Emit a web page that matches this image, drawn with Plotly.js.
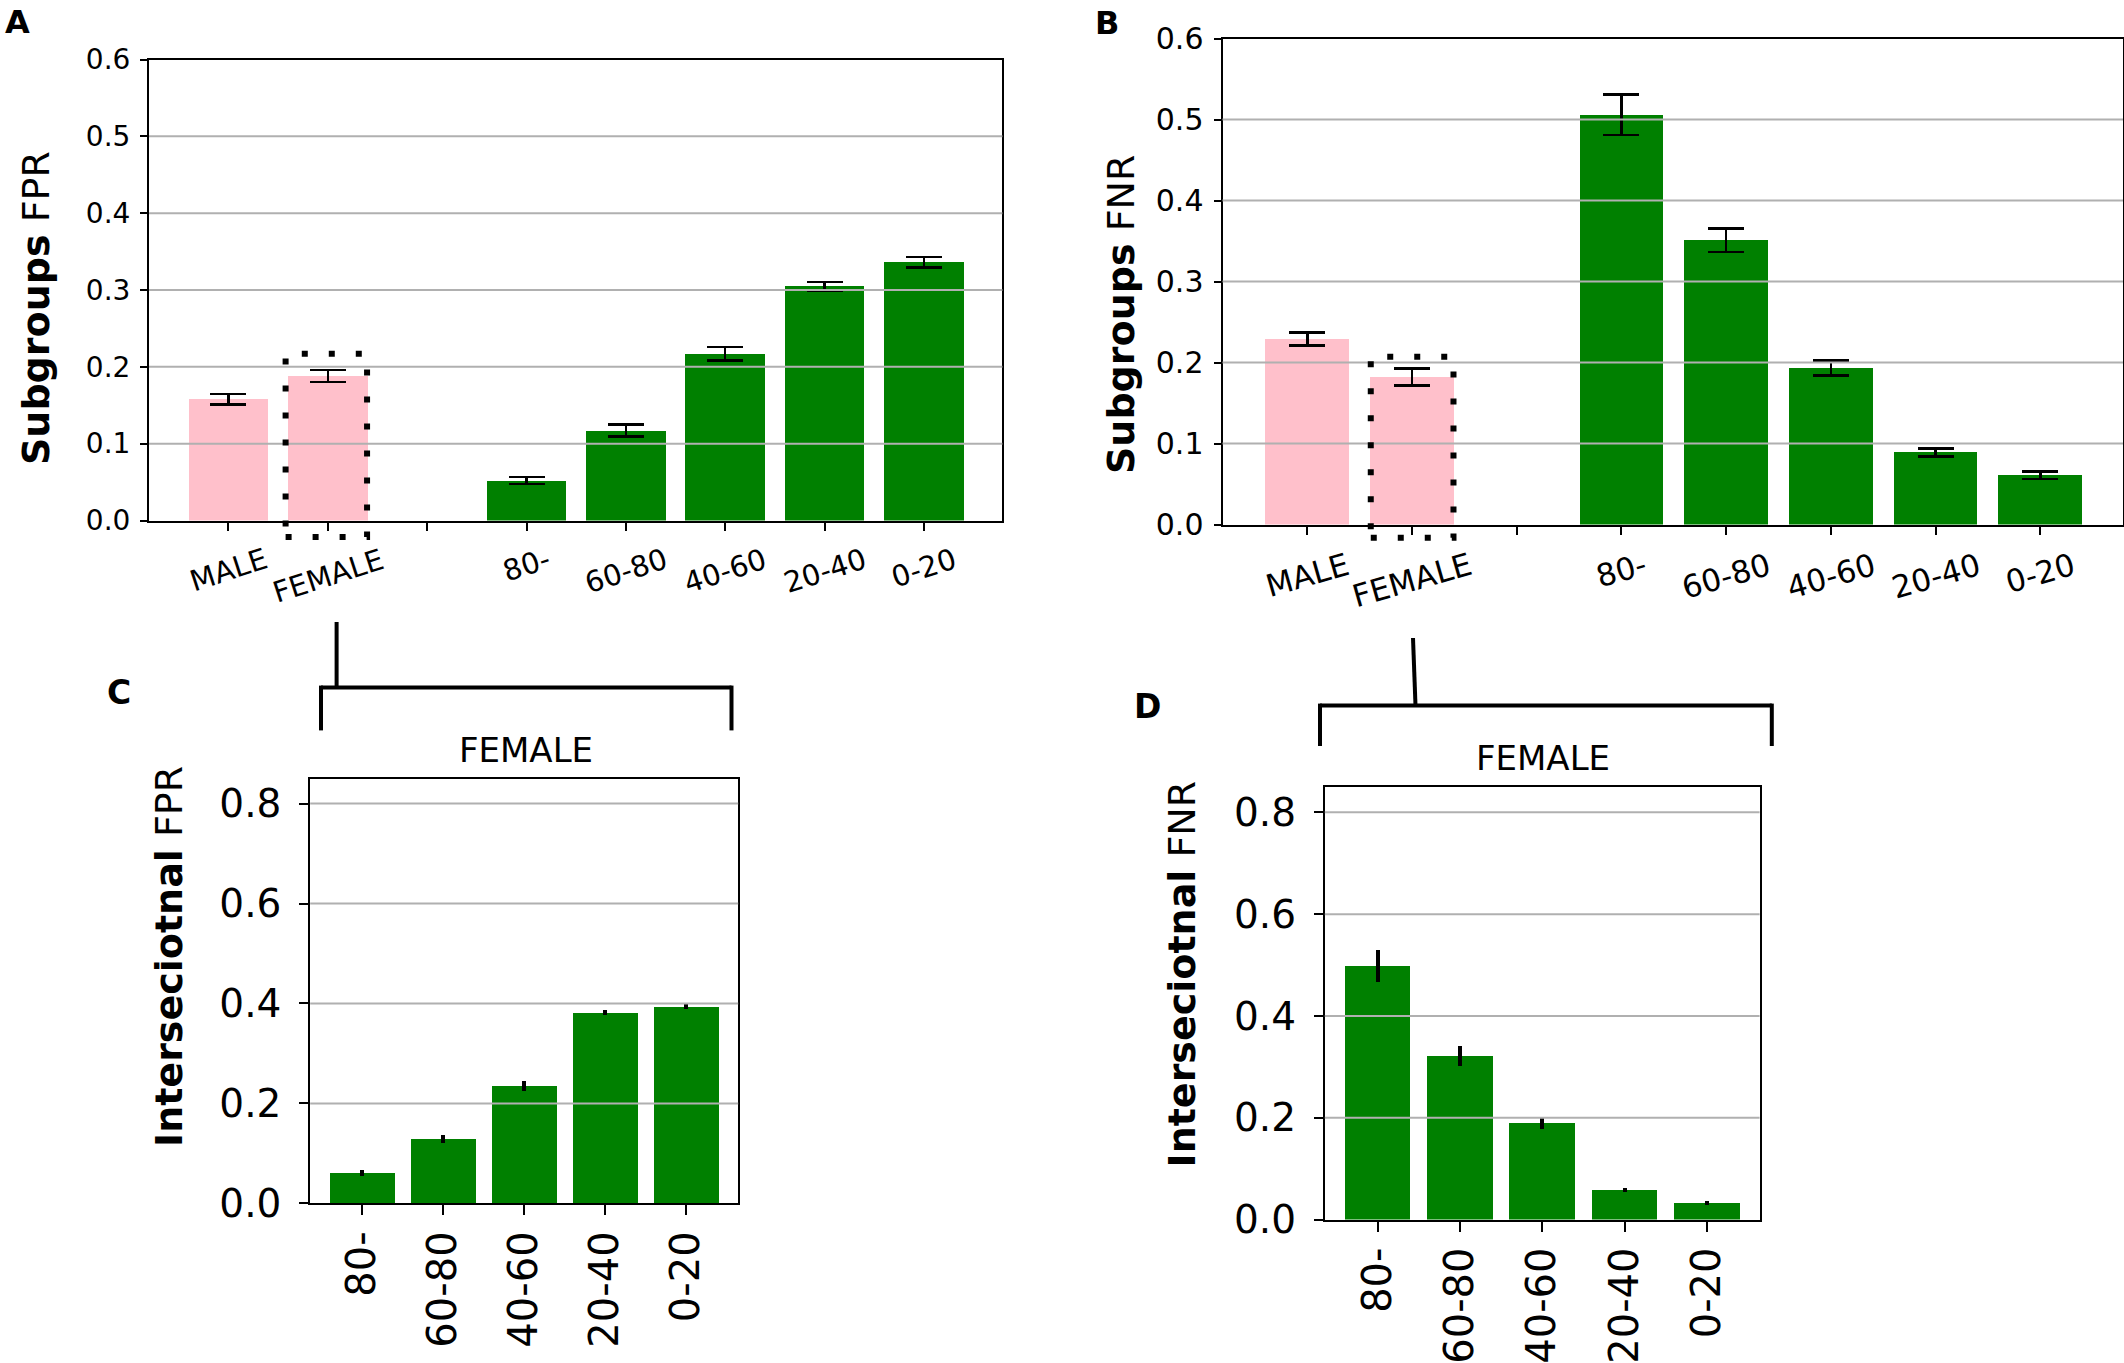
<!DOCTYPE html>
<html>
<head>
<meta charset="utf-8">
<script src="https://cdn.plot.ly/plotly-3.0.1.min.js"></script>
<style>html,body{margin:0;padding:0;background:#fff;}#chart{width:2124px;height:1363px;}</style>
</head>
<body>
<div id="chart"></div>
<script>
// ---------- data ----------
const categories = ['MALE', 'FEMALE', '', '80-', '60-80', '40-60', '20-40', '0-20'];
const sexLabels = ['MALE', 'FEMALE'];
const ageLabels = ['80-', '60-80', '40-60', '20-40', '0-20'];

const fprSex = [0.158, 0.188];
const fprSexErr = [0.0067, 0.0077];
const fprAge = [0.052, 0.117, 0.217, 0.305, 0.336];
const fprAgeErr = [0.0045, 0.0077, 0.0087, 0.0055, 0.0067];

const fnrSex = [0.229, 0.182];
const fnrSexErr = [0.0083, 0.0103];
const fnrAge = [0.506, 0.351, 0.193, 0.089, 0.061];
const fnrAgeErr = [0.025, 0.0145, 0.0093, 0.005, 0.0047];

const femaleFpr = [0.060, 0.128, 0.234, 0.381, 0.393];
const femaleFprErr = [0.006, 0.008, 0.010, 0.005, 0.005];
const femaleFnr = [0.498, 0.321, 0.189, 0.058, 0.033];
const femaleFnrErr = [0.031, 0.019, 0.0115, 0.004, 0.004];

const ticksTop = [0, 0.1, 0.2, 0.3, 0.4, 0.5, 0.6];
const ticksBottom = [0, 0.2, 0.4, 0.6, 0.8];

// ---------- layout helpers ----------
const W = 2124, H = 1363;
const fx = px => px / W;
const fy = py => 1 - py / H;
const PINK = '#FFC0CB', GREEN = '#008000';
const FONT = 'DejaVu Sans';

const rangeA = [-0.8, 7.79], rangeB = [-0.81, 7.79];
const rangeCD = [-0.64, 4.64];
const yTop = [0, 0.6], yBot = [0, 0.85];

const idx = lab => categories.indexOf(lab);

function barTrace(xs, ys, errs, color, xa, ya, capped) {
  return {
    type: 'bar', x: xs, y: ys, width: 0.8,
    marker: {color: color, line: {width: 0}},
    error_y: {type: 'data', array: errs, visible: true, color: '#000',
              thickness: capped ? 2.5 : 4, width: capped ? 18 : 0},
    xaxis: xa, yaxis: ya, showlegend: false, hoverinfo: 'x+y'
  };
}

const traces = [
  barTrace(sexLabels.map(idx), fprSex, fprSexErr, PINK, 'x', 'y', true),
  barTrace(ageLabels.map(idx), fprAge, fprAgeErr, GREEN, 'x', 'y', true),
  barTrace(sexLabels.map(idx), fnrSex, fnrSexErr, PINK, 'x2', 'y2', true),
  barTrace(ageLabels.map(idx), fnrAge, fnrAgeErr, GREEN, 'x2', 'y2', true),
  barTrace(ageLabels.map((l, i) => i), femaleFpr, femaleFprErr, GREEN, 'x3', 'y3', false),
  barTrace(ageLabels.map((l, i) => i), femaleFnr, femaleFnrErr, GREEN, 'x4', 'y4', false)
];

function xAxis(domain, range, anchor, opts) {
  return Object.assign({
    domain: domain, range: range, anchor: anchor, showgrid: false, zeroline: false,
    showline: true, mirror: true, linecolor: '#000', linewidth: 2,
    ticks: 'outside', ticklen: 8, tickwidth: 2, tickcolor: '#000', fixedrange: true
  }, opts);
}
function yAxis(domain, range, anchor, tickvals, size, opts) {
  return Object.assign({
    domain: domain, range: range, anchor: anchor, showgrid: false, zeroline: false,
    showline: true, mirror: true, linecolor: '#000', linewidth: 2,
    ticks: 'outside', ticklen: 7, tickwidth: 2, tickcolor: '#000',
    tickvals: tickvals, tickformat: '.1f',
    tickfont: {family: FONT, size: size, color: '#000'}, fixedrange: true
  }, opts);
}

const layout = {
  width: W, height: H,
  margin: {l: 0, r: 0, t: 0, b: 0, pad: 0},
  paper_bgcolor: '#fff', plot_bgcolor: '#fff',
  bargap: 0, showlegend: false,
  xaxis: xAxis([fx(149), fx(1002.4)], rangeA, 'y',
    {tickvals: categories.map((c, i) => i), showticklabels: false}),
  yaxis: yAxis([fy(520.5), fy(59.5)], yTop, 'x', ticksTop, 28, {ticklabelstandoff: 4}),
  xaxis2: xAxis([fx(1222.5), fx(2123)], rangeB, 'y2',
    {tickvals: categories.map((c, i) => i), showticklabels: false}),
  yaxis2: yAxis([fy(524.5), fy(38.5)], yTop, 'x2', ticksTop, 30, {ticklabelstandoff: 4}),
  xaxis3: xAxis([fx(310.2), fx(738.2)], rangeCD, 'y3',
    {tickvals: ageLabels.map((l, i) => i), ticktext: ageLabels, tickangle: -90,
     ticklen: 10, tickfont: {family: FONT, size: 40, color: '#000'}}),
  yaxis3: yAxis([fy(1203.4), fy(778.6)], yBot, 'x3', ticksBottom, 39, {ticklen: 9, ticklabelstandoff: 10}),
  xaxis4: xAxis([fx(1324.8), fx(1759.6)], rangeCD, 'y4',
    {tickvals: ageLabels.map((l, i) => i), ticktext: ageLabels, tickangle: -90,
     ticklen: 10, tickfont: {family: FONT, size: 40, color: '#000'}}),
  yaxis4: yAxis([fy(1219.5), fy(786.9)], yBot, 'x4', ticksBottom, 39, {ticklen: 9, ticklabelstandoff: 10}),
  shapes: [],
  annotations: []
};

// grid lines drawn above the bars, as in the reference
function grid(xa, ya, vals, top) {
  vals.filter(v => v > 0 && v < top).forEach(v => {
    layout.shapes.push({type: 'line', xref: xa + ' domain', yref: ya, x0: 0, x1: 1, y0: v, y1: v,
      line: {color: '#b0b0b0', width: 2}, layer: 'above'});
  });
}
grid('x', 'y', ticksTop, 0.6);
grid('x2', 'y2', ticksTop, 0.6);
grid('x3', 'y3', ticksBottom, 0.85);
grid('x4', 'y4', ticksBottom, 0.85);

// dotted highlight box around FEMALE bar (not clipped: domain refs)
function dottedBox(xa, ya, xr, yr, x0, x1, y0, y1) {
  const dx = v => (v - xr[0]) / (xr[1] - xr[0]);
  const dy = v => (v - yr[0]) / (yr[1] - yr[0]);
  layout.shapes.push({type: 'rect', xref: xa + ' domain', yref: ya + ' domain',
    x0: dx(x0), x1: dx(x1), y0: dy(y0), y1: dy(y1),
    line: {color: '#000', width: 6, dash: '6px,21px'}, fillcolor: 'rgba(0,0,0,0)', layer: 'above'});
}
dottedBox('x', 'y', rangeA, yTop, 0.575, 1.395, -0.0215, 0.217);
dottedBox('x2', 'y2', rangeB, yTop, 0.606, 1.396, -0.0165, 0.207);

// brackets linking FEMALE to panels C and D
function seg(x0, y0, x1, y1) {
  layout.shapes.push({type: 'line', xref: 'paper', yref: 'paper',
    x0: fx(x0), y0: fy(y0), x1: fx(x1), y1: fy(y1), line: {color: '#000', width: 4}});
}
seg(336.6, 622, 336.6, 687.6);
seg(321, 687.6, 731.5, 687.6);
seg(321, 685.6, 321, 730.4);
seg(731.5, 685.6, 731.5, 730.4);
seg(1413, 638, 1415.5, 705.6);
seg(1320, 705.6, 1771.8, 705.6);
seg(1320, 703.6, 1320, 746);
seg(1771.8, 703.6, 1771.8, 746);

function ann(text, px, py, size, opts) {
  layout.annotations.push(Object.assign({
    text: text, xref: 'paper', yref: 'paper', x: fx(px), y: fy(py),
    xanchor: 'center', yanchor: 'middle', showarrow: false,
    font: {family: FONT, size: size, color: '#000'}
  }, opts || {}));
}
// panel letters
ann('<b>A</b>', 17, 22, 32);
ann('<b>B</b>', 1107, 23, 32);
ann('<b>C</b>', 119, 692.5, 33);
ann('<b>D</b>', 1147, 706, 33);
// y axis titles
ann('<b>Subgroups</b> FPR', 36, 308, 38, {textangle: -90});
ann('<b>Subgroups</b> FNR', 1121, 315, 38, {textangle: -90});
ann('<b>Interseciotnal</b> FPR', 169, 957, 38, {textangle: -90});
ann('<b>Interseciotnal</b> FNR', 1181, 974.5, 38, {textangle: -90});
// titles above C and D
ann('FEMALE', 526, 750, 34);
ann('FEMALE', 1543, 758, 34);

// rotated category labels for panels A and B (centred on their ticks)
categories.forEach((c, i) => {
  if (!c) return;
  layout.annotations.push({text: c, xref: 'x', yref: 'paper', x: i, y: fy(539.5),
    xanchor: 'center', yanchor: 'top', showarrow: false, textangle: -18,
    font: {family: FONT, size: 29, color: '#000'}});
  layout.annotations.push({text: c, xref: 'x2', yref: 'paper', x: i, y: fy(543.5),
    xanchor: 'center', yanchor: 'top', showarrow: false, textangle: -16,
    font: {family: FONT, size: 31, color: '#000'}});
});

Plotly.newPlot('chart', traces, layout, {staticPlot: true, displayModeBar: false});
</script>
</body>
</html>
